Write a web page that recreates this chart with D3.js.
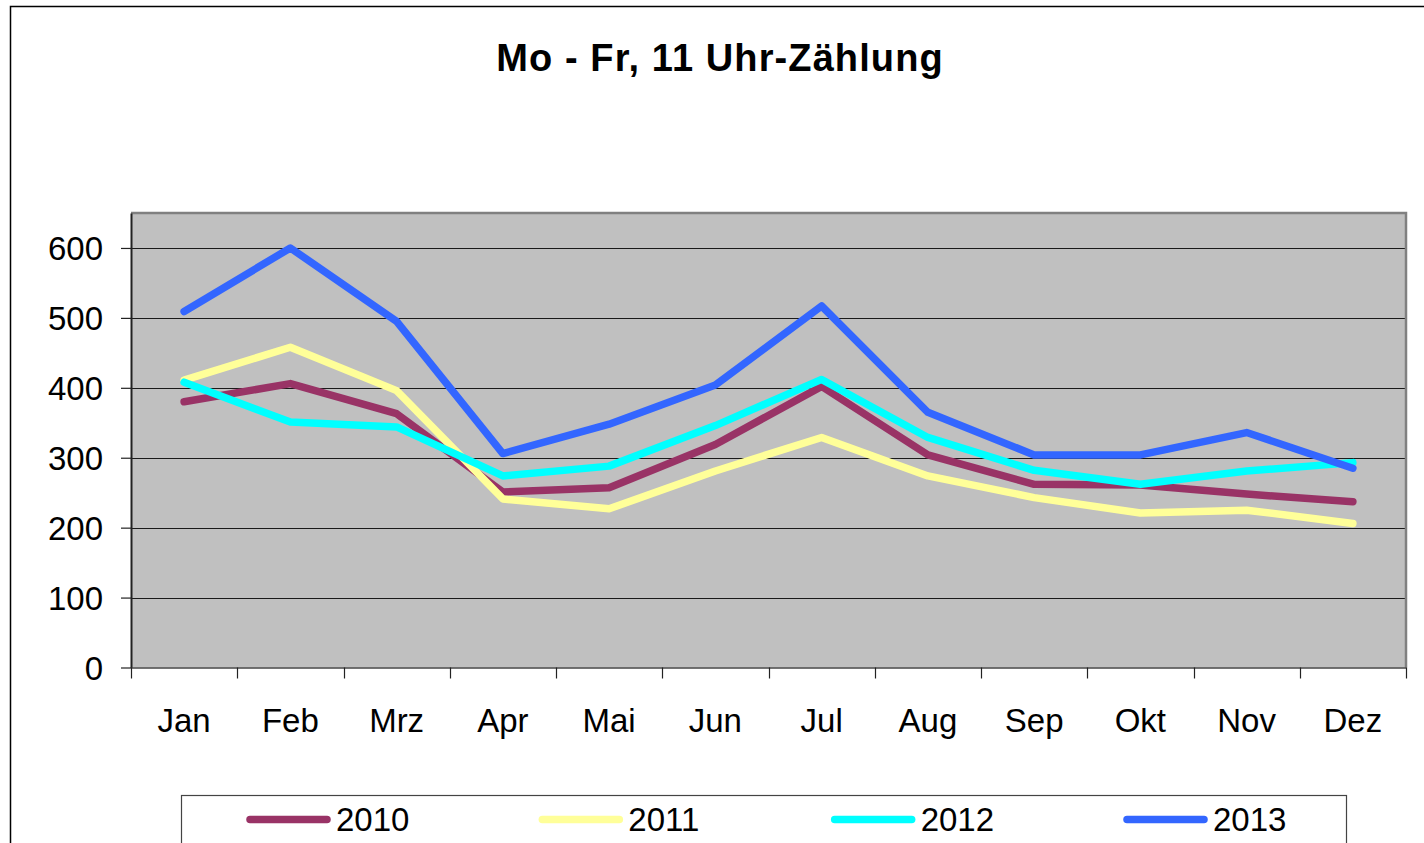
<!DOCTYPE html>
<html>
<head>
<meta charset="utf-8">
<script src="https://cdn.jsdelivr.net/npm/d3@7"></script>
<style>
  html, body { margin: 0; padding: 0; background: #fff; }
  svg { display: block; font-family: "Liberation Sans", Arial, sans-serif; }
</style>
</head>
<body>
<svg id="chart" width="1424" height="843"></svg>
<script>
const months = ["Jan","Feb","Mrz","Apr","Mai","Jun","Jul","Aug","Sep","Okt","Nov","Dez"];
const years = ["2010","2011","2012","2013"];
const v2010 = [380, 406, 363, 251, 257, 319, 402, 304, 262, 261, 248, 237];
const v2011 = [411, 458, 396, 241, 227, 281, 329, 274, 243, 221, 225, 206];
const v2012 = [408, 351, 344, 274, 288, 346, 412, 329, 282, 262, 281, 293];
const v2013 = [509, 600, 495, 306, 348, 404, 517, 365, 304, 304, 336, 285];
const yTicks = [0, 100, 200, 300, 400, 500, 600];
const colors = ["#993366", "#FFFF99", "#00FFFF", "#3366FF"];
const titleText = "Mo - Fr, 11 Uhr-Zählung";

const seriesValues = [v2010, v2011, v2012, v2013];

const svg = d3.select("#chart");
const plot = { left: 131, top: 213, right: 1406, bottom: 667.5 };

// Outer chart border
svg.append("rect")
  .attr("x", 10.5).attr("y", 6.5)
  .attr("width", 1440).attr("height", 900)
  .attr("fill", "#fff").attr("stroke", "#000").attr("stroke-width", 1.5);

// Title
svg.append("text")
  .attr("x", 720).attr("y", 71)
  .attr("text-anchor", "middle")
  .attr("font-size", 38).attr("font-weight", "bold")
  .attr("letter-spacing", 1.1)
  .attr("fill", "#000")
  .text(titleText);

const x = d3.scaleBand().domain(months).range([plot.left, plot.right]).paddingInner(0).paddingOuter(0);
const y = d3.scaleLinear().domain([0, 650]).range([plot.bottom, plot.top]);

// Plot background
svg.append("rect")
  .attr("x", plot.left).attr("y", plot.top)
  .attr("width", plot.right - plot.left).attr("height", plot.bottom - plot.top)
  .attr("fill", "#C0C0C0");

// Gridlines
svg.append("g")
  .selectAll("line")
  .data(yTicks.filter(d => d > 0))
  .join("line")
  .attr("x1", plot.left).attr("x2", plot.right)
  .attr("y1", d => Math.round(y(d)) + 0.5).attr("y2", d => Math.round(y(d)) + 0.5)
  .attr("stroke", "#1a1a1a").attr("stroke-width", 1.2);

// Plot border top/right (gray)
svg.append("path")
  .attr("d", `M${plot.left},${plot.top} H${plot.right} V${plot.bottom}`)
  .attr("fill", "none").attr("stroke", "#808080").attr("stroke-width", 2.5);

// Y axis
const yAxis = svg.append("g")
  .attr("transform", `translate(${plot.left},0)`)
  .call(d3.axisLeft(y).tickValues(yTicks).tickSize(10).tickSizeOuter(0).tickPadding(18).tickFormat(d3.format("d")));
yAxis.select(".domain").attr("stroke", "#222").attr("stroke-width", 2);
yAxis.selectAll(".tick line").attr("stroke", "#222").attr("stroke-width", 1.2);
yAxis.selectAll(".tick text").attr("font-size", 33).attr("fill", "#000")
  .attr("font-family", "'Liberation Sans', Arial, sans-serif").attr("dy", "0.36em");

// X axis
const xAxis = svg.append("g")
  .attr("transform", `translate(0,${plot.bottom})`)
  .call(d3.axisBottom(x).tickSize(0).tickSizeOuter(0).tickPadding(0));
xAxis.select(".domain").attr("stroke", "#444").attr("stroke-width", 1.5);
xAxis.selectAll(".tick text").attr("font-size", 33).attr("fill", "#000")
  .attr("font-family", "'Liberation Sans', Arial, sans-serif")
  .attr("y", 64).attr("dy", 0);
// Category boundary ticks
const bounds = months.map(m => x(m)).concat([plot.right]);
svg.append("g")
  .selectAll("line")
  .data(bounds)
  .join("line")
  .attr("x1", d => Math.round(d) + 0.5).attr("x2", d => Math.round(d) + 0.5)
  .attr("y1", plot.bottom).attr("y2", plot.bottom + 11)
  .attr("stroke", "#222").attr("stroke-width", 1.2);

// Lines
const line = d3.line()
  .x((d, i) => x(months[i]) + x.bandwidth() / 2)
  .y(d => y(d));

svg.append("g")
  .selectAll("path")
  .data(seriesValues)
  .join("path")
  .attr("d", d => line(d))
  .attr("fill", "none")
  .attr("stroke", (d, i) => colors[i])
  .attr("stroke-width", 7.5)
  .attr("stroke-linecap", "round")
  .attr("stroke-linejoin", "round");

// Legend
const legend = { x: 181, y: 795, w: 1165, h: 80 };
svg.append("rect")
  .attr("x", legend.x + 0.5).attr("y", legend.y + 0.5)
  .attr("width", legend.w).attr("height", legend.h)
  .attr("fill", "#fff").attr("stroke", "#444").attr("stroke-width", 1.2);

const lx = d3.scalePoint().domain(years).range([247, 1124]);
const items = svg.append("g").selectAll("g").data(years).join("g")
  .attr("transform", d => `translate(${lx(d)},0)`);
items.append("line")
  .attr("x1", 3).attr("x2", 80)
  .attr("y1", 819.5).attr("y2", 819.5)
  .attr("stroke", (d, i) => colors[i])
  .attr("stroke-width", 7.5)
  .attr("stroke-linecap", "round");
items.append("text")
  .attr("x", 89).attr("y", 831)
  .attr("font-size", 33).attr("fill", "#000")
  .text(d => d);
</script>
</body>
</html>
